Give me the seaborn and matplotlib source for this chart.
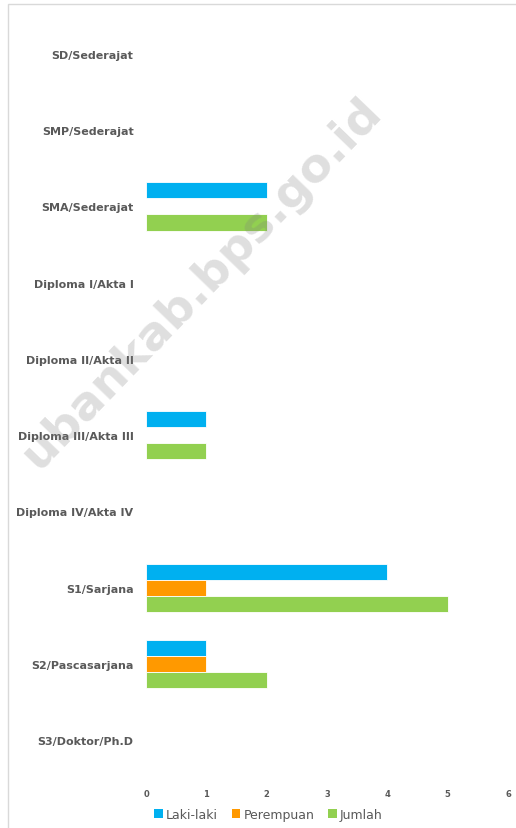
import pandas as pd
import matplotlib.pyplot as plt
import seaborn as sns
from matplotlib.patches import Patch, Rectangle

# Data
categories = ["SD/Sederajat", "SMP/Sederajat", "SMA/Sederajat", "Diploma I/Akta I",
              "Diploma II/Akta II", "Diploma III/Akta III", "Diploma IV/Akta IV",
              "S1/Sarjana", "S2/Pascasarjana", "S3/Doktor/Ph.D"]
laki_laki = [0, 0, 2, 0, 0, 1, 0, 4, 1, 0]
perempuan = [0, 0, 0, 0, 0, 0, 0, 1, 1, 0]
jumlah = [0, 0, 2, 0, 0, 1, 0, 5, 2, 0]
series_names = ["Laki-laki", "Perempuan", "Jumlah"]
colors = ["#00B0F0", "#FF9900", "#92D050"]

df = pd.DataFrame({"Pendidikan": categories, "Laki-laki": laki_laki,
                   "Perempuan": perempuan, "Jumlah": jumlah})
df_long = df.melt(id_vars="Pendidikan", var_name="Seri", value_name="Nilai")

sns.set_style("white")
plt.rcParams["font.family"] = ["DejaVu Sans"]

fig = plt.figure(figsize=(5.16, 8.29), dpi=100)
ax = fig.add_axes([0.283, 0.0603, 0.7015, 0.9192])

sns.barplot(data=df_long, y="Pendidikan", x="Nilai", hue="Seri",
            hue_order=series_names, palette=colors, order=categories,
            orient="h", width=0.63, saturation=1, edgecolor="white",
            linewidth=0.6, legend=False, ax=ax)

ax.set_xlim(0, 6)
ax.set_ylim(len(categories) - 0.5, -0.5)
ax.set_xticks(range(0, 7))
ax.set_xlabel("")
ax.set_ylabel("")
for s in ax.spines.values():
    s.set_visible(False)
ax.tick_params(axis="both", length=0)
ax.tick_params(axis="y", pad=9, labelsize=8, labelcolor="#595959")
ax.tick_params(axis="x", pad=8, labelsize=6, labelcolor="#595959")
for lbl in ax.get_yticklabels() + ax.get_xticklabels():
    lbl.set_fontweight("bold")

handles = [Patch(facecolor=c, edgecolor="none") for c in colors]
fig.legend(handles, series_names, loc="center", bbox_to_anchor=(0.52, 0.016),
           ncol=3, frameon=False, fontsize=9, handlelength=0.7,
           handleheight=0.7, handletextpad=0.25, columnspacing=1.1,
           labelcolor="#595959")

# chart border
fig.patches.append(Rectangle((8 / 516, -0.01), 1.0, 1 - 5 / 829 + 0.01,
                             transform=fig.transFigure, fill=False,
                             edgecolor="#D9D9D9", linewidth=1))

# watermark
fig.text(0.39, 0.658, "ubankab.bps.go.id", rotation=46, rotation_mode="anchor",
         ha="center", va="center", fontsize=34, fontweight="bold",
         color="#808080", alpha=0.25, zorder=10)

fig.savefig("out.png", dpi=100)
